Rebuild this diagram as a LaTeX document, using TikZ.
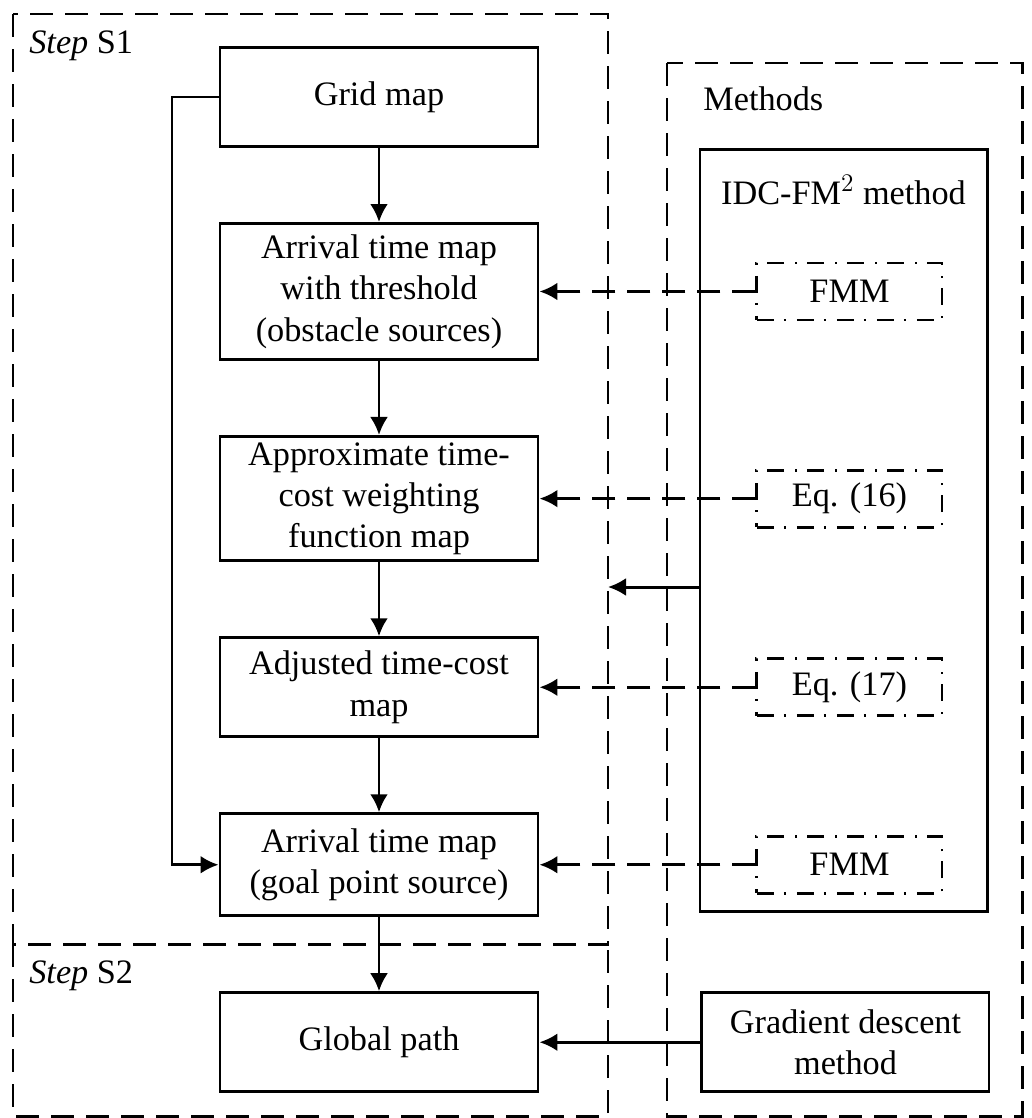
\documentclass[tikz,border=0pt]{standalone}
\usepackage{fontspec}
\setmainfont{Liberation Serif}
\usetikzlibrary{positioning,arrows.meta}

\begin{document}
\begin{tikzpicture}[node distance=1.48cm and 4.32cm,
	line width=1.7pt,
	txt/.style={font=\fontsize{19.5}{23.5}\selectfont},
	stepbox/.style={draw,txt,minimum width=6.36cm,align=center},
	eqbox/.style={draw,txt,dash pattern=on 0.34cm off 0.2cm on 0.04cm off 0.22cm,minimum width=3.7cm,minimum height=1.14cm},
	frame/.style={dash pattern=on 0.46cm off 0.24cm},
	link/.style={-{Latex[length=3.6mm,width=3.6mm]}},
	dlink/.style={link,dash pattern=on 0.46cm off 0.24cm}
	]
	\useasboundingbox (0,0) rectangle (20.64,-22.36);

	% flow of step S1 and S2
	\node[stepbox,minimum height=1.98cm] (grid) at (7.58,-1.94) {Grid map};
	\node[stepbox,minimum height=2.72cm,below=of grid] (arrthr) {Arrival time map\\with threshold\\(obstacle sources)};
	\node[stepbox,minimum height=2.48cm,below=of arrthr] (approx) {Approximate time-\\cost weighting\\function map};
	\node[stepbox,minimum height=1.98cm,below=of approx] (adjust) {Adjusted time-cost\\map};
	\node[stepbox,minimum height=2.04cm,below=of adjust] (goal) {Arrival time map\\(goal point source)};
	\node[stepbox,minimum height=1.98cm,below=of goal] (glob) {Global path};

	% methods
	\node[eqbox,right=of arrthr] (fmma) {FMM};
	\node[eqbox,right=of approx] (eqa) {Eq. (16)};
	\node[eqbox,right=of adjust] (eqb) {Eq. (17)};
	\node[eqbox,right=of goal] (fmmb) {FMM};
	\node[stepbox,minimum width=5.74cm,minimum height=1.98cm,right=3.22cm of glob] (grad) {Gradient descent\\method};
	\node[draw,minimum width=5.74cm,minimum height=15.24cm] (idc) at (16.87,-10.6) {};
	\node[txt] (idclab) at (16.87,-3.8) {IDC-FM$^2$ method};

	% frames
	\draw[frame] (0.26,-0.28) rectangle (12.16,-18.88);
	\draw[frame] (0.26,-18.88) -- (0.26,-22.32) -- (12.16,-22.32) -- (12.16,-18.88);
	\draw[frame] (13.34,-1.26) rectangle (20.44,-22.32);
	\node[txt,anchor=base west] (s1) at (0.44,-1.06) {\textit{Step} S1};
	\node[txt,anchor=base west] (s2) at (0.44,-19.66) {\textit{Step} S2};
	\node[txt,anchor=base west] (meth) at (13.92,-2.2) {Methods};
	\coordinate (s1r) at (12.16,-11.74);
	\coordinate (fb) at (3.44,0);

	\draw[link] (grid) -- (arrthr);
	\draw[link] (arrthr) -- (approx);
	\draw[link] (approx) -- (adjust);
	\draw[link] (adjust) -- (goal);
	\draw[link] (goal) -- (glob);
	\draw[link] (grid.west) -- (fb |- grid.west) -- (fb |- goal.west) -- (goal.west);

	\draw[dlink] (fmma) -- (arrthr);
	\draw[dlink] (eqa) -- (approx);
	\draw[dlink] (eqb) -- (adjust);
	\draw[dlink] (fmmb) -- (goal);
	\draw[link] (grad) -- (glob);
	\draw[link] (idc.west |- s1r) -- (s1r);
\end{tikzpicture}
\end{document}
